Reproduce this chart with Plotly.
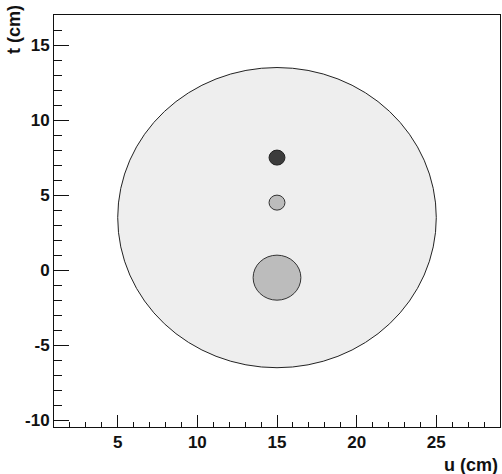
import plotly.graph_objects as go

# Data: circles (centre u, centre t, radius, fill colour)
circle_u = [15.0, 15.0, 15.0, 15.0]
circle_t = [3.5, 7.5, 4.5, -0.5]
circle_r = [10.0, 0.5, 0.5, 1.5]
circle_fill = ["#eeeeee", "#3c3c3c", "#bcbcbc", "#bcbcbc"]
circle_line = ["#222222", "#222222", "#333333", "#333333"]

x_range = [1, 29]
y_range = [-10.45, 17.0]
x_ticks = [5, 10, 15, 20, 25]
x_labels = ["5", "10", "15", "20", "25"]
y_ticks = [-10, -5, 0, 5, 10, 15]
y_labels = ["-10", "-5", "0", "5", "10", "15"]

fig = go.Figure()
# invisible trace so axes are drawn
fig.add_trace(go.Scatter(x=circle_u, y=circle_t, mode="markers",
                         marker=dict(opacity=0), hoverinfo="skip", showlegend=False))

shapes = []
for u, t, r, fc, lc in zip(circle_u, circle_t, circle_r, circle_fill, circle_line):
    shapes.append(dict(type="circle", xref="x", yref="y",
                       x0=u - r, x1=u + r, y0=t - r, y1=t + r,
                       fillcolor=fc, line=dict(color=lc, width=1), layer="below"))

font = dict(family="Liberation Sans, Arial, sans-serif", size=17, color="#111111", weight="bold")

fig.update_layout(
    width=502, height=474,
    margin=dict(l=54, r=2, t=15, b=47, autoexpand=False),
    paper_bgcolor="white", plot_bgcolor="white",
    shapes=shapes,
    showlegend=False,
    xaxis=dict(range=x_range, tickvals=x_ticks, ticktext=x_labels, ticks="inside", ticklen=12, tickwidth=1,
               tickcolor="#111", showline=True, linecolor="#111", linewidth=1, mirror=True,
               showgrid=False, zeroline=False, tickfont=font, automargin=False,
               minor=dict(dtick=1, tick0=0, ticks="inside", ticklen=5, tickcolor="#111", showgrid=False)),
    yaxis=dict(range=y_range, tickvals=y_ticks, ticktext=y_labels, ticks="inside", ticklen=15, tickwidth=1,
               tickcolor="#111", showline=True, linecolor="#111", linewidth=1, mirror=True,
               showgrid=False, zeroline=False, tickfont=font, automargin=False,
               minor=dict(dtick=1, tick0=0, ticks="inside", ticklen=8, tickcolor="#111", showgrid=False)),
    annotations=[
        dict(text="<b>u (cm)</b>", xref="paper", yref="paper", x=1.0, y=-0.062,
             xanchor="right", yanchor="top", showarrow=False,
             font=dict(family="Liberation Sans, Arial, sans-serif", size=18, color="#111")),
        dict(text="<b>t (cm)</b>", xref="paper", yref="paper", x=-0.09, y=1.03,
             xanchor="center", yanchor="top", textangle=-90, showarrow=False,
             font=dict(family="Liberation Sans, Arial, sans-serif", size=18, color="#111")),
    ],
)

fig.write_html("out.html", config={"displayModeBar": False},
               post_script="document.body.style.margin='0px';document.body.style.overflow='hidden';")
